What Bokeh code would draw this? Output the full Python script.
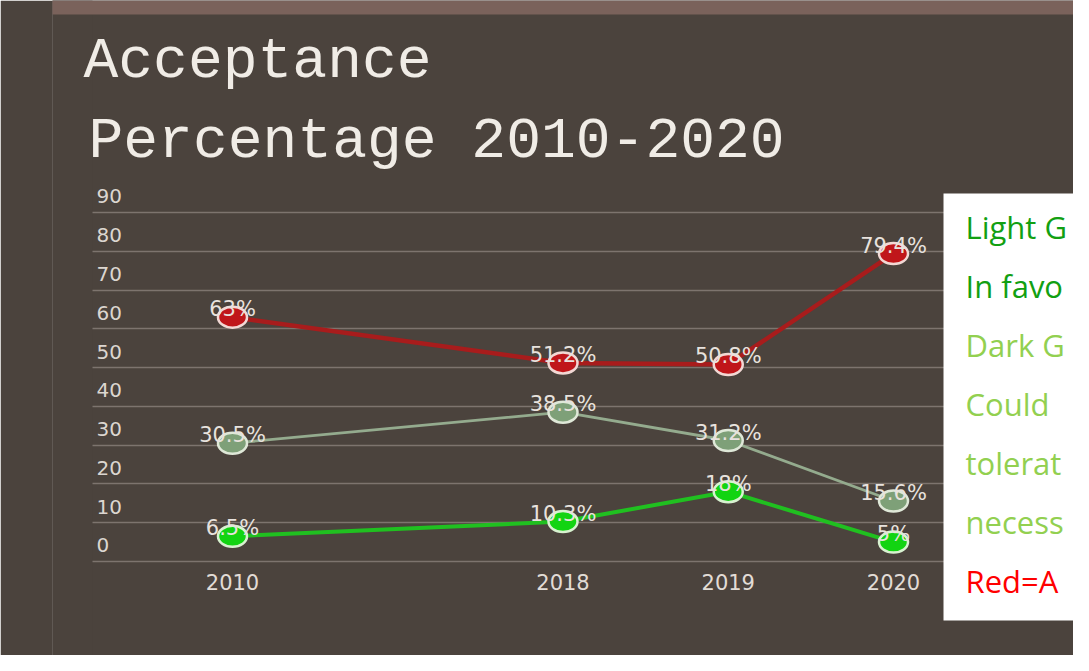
from bokeh.plotting import figure
from bokeh.models import FactorRange, Range1d, Grid, FixedTicker, Label, BoxAnnotation, ColumnDataSource
from bokeh.core.properties import value
from bokeh.embed import file_html
from bokeh.resources import INLINE

# ---- data ----
years = ["2010", "2018", "2019", "2020"]
slots = ["2010", " ", "2018", "2019", "2020"]   # blank slot between 2010 and 2018
against = [63, 51.2, 50.8, 79.4]
tolerate = [30.5, 38.5, 31.2, 15.6]
in_favor = [6.5, 10.3, 18, 5]
y_ticks = [0, 10, 20, 30, 40, 50, 60, 70, 80, 90]
title_lines = ["Acceptance", "Percentage 2010-2020"]
legend_lines = ["Light G", "In favo", "Dark G", "Could", "tolerat", "necess", "Red=A"]
legend_colors = ["#12a012", "#12a012", "#92d050", "#92d050", "#92d050", "#92d050", "#ff0000"]

PANEL = "#4b433d"
W, H = 1073, 655
p = figure(width=W, height=H, output_backend="svg", toolbar_location=None,
           x_range=FactorRange(factors=slots, range_padding=0.2357),
           y_range=Range1d(-24.24, 144.66), x_axis_location=None, y_axis_location=None,
           min_border_left=52, min_border_right=0, min_border_top=0, min_border_bottom=0)
p.border_fill_color = PANEL
p.background_fill_color = PANEL
p.outline_line_color = None
p.grid.visible = False

grid = Grid(dimension=1, ticker=FixedTicker(ticks=y_ticks), grid_line_color="#7d746e", grid_line_width=1.5)
p.add_layout(grid)

def cbox(l, r, t, b, color, level, alpha=1.0):
    return BoxAnnotation(left=l, right=r, top=t, bottom=b,
                         left_units="canvas", right_units="canvas", top_units="canvas", bottom_units="canvas",
                         fill_color=color, fill_alpha=alpha, line_color=None, level=level)

# keep grid lines from running to the left edge; mauve frame strip at top
p.add_layout(cbox(0, 92, 0, 700, PANEL, "underlay"))
p.add_layout(cbox(0, 1200, 0, 14, "#7a625b", "underlay"))

# y tick labels (drawn shifted up between grid lines as in the original)
p.text(x=["2010"] * len(y_ticks), y=y_ticks, text=[str(t) for t in y_ticks],
       x_offset=-136, y_offset=-16, text_align="left", text_baseline="middle",
       text_font=value("DejaVu Sans"), text_font_size="20px", text_color="#dcd6d0")
# x category labels
p.text(x=years, y=[0] * len(years), text=years, y_offset=21, text_align="center", text_baseline="middle",
       text_font=value("DejaVu Sans"), text_font_size="21px", text_color="#e2dcd6")

series = [
    (tolerate, "#94ab8e", 2.8, "#7ea078", "#dfe8d8"),
    (in_favor, "#20c020", 4, "#12d412", "#d8f2d0"),
    (against, "#a81c1c", 4.5, "#c0161a", "#f2d8d4"),
]
for vals, lc, lw, fc, oc in series:
    p.line(years, vals, line_color=lc, line_width=lw)
for vals, lc, lw, fc, oc in series:
    p.ellipse(years, vals, width=29, height=21, width_units="screen", height_units="screen",
              fill_color=fc, line_color=oc, line_width=2.5)
for vals, lc, lw, fc, oc in series:
    src = ColumnDataSource(dict(x=years, y=vals, t=[f"{v:g}%" for v in vals]))
    p.text(x="x", y="y", text="t", source=src, text_align="center", text_baseline="alphabetic",
           y_offset=-8, text_font=value("DejaVu Sans"), text_font_size="21px", text_color="#e8e2de")

# title
p.add_layout(Label(x=31, y=594, x_units="screen", y_units="screen", text=title_lines[0],
                   text_font="Liberation Mono", text_font_size="58px", text_color="#f0ece6",
                   text_baseline="alphabetic"))
p.add_layout(Label(x=36, y=514, x_units="screen", y_units="screen", text=title_lines[1],
                   text_font="Liberation Mono", text_font_size="58px", text_color="#f0ece6",
                   text_baseline="alphabetic"))

# white text box on the right
p.add_layout(cbox(943, 1200, 193, 620, "white", "annotation"))
for k, (t, c) in enumerate(zip(legend_lines, legend_colors)):
    p.add_layout(Label(x=913, y=429 - 59 * k, x_units="screen", y_units="screen", text=t,
                       text_font="Open Sans", text_font_size="31px", text_color=c,
                       text_baseline="alphabetic"))

open("out.html", "w").write(file_html(p, INLINE))
